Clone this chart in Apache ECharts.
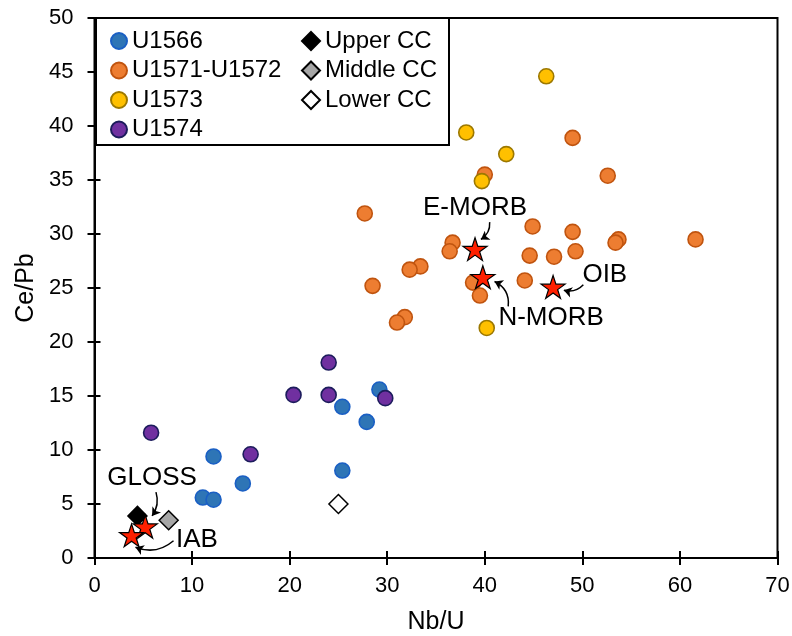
<!DOCTYPE html>
<html>
<head>
<meta charset="utf-8">
<script src="https://cdn.jsdelivr.net/npm/echarts@6/dist/echarts.min.js"></script>
<style>html,body{margin:0;padding:0;background:#fff}#c{width:792px;height:636px}</style>
</head>
<body>
<div id="c"></div>
<script>
// ---- data: [Nb/U, Ce/Pb] ----
const u1566 = [[12.2,9.4],[11.1,5.6],[12.2,5.4],[15.2,6.9],[25.4,14.0],[25.4,8.1],[27.9,12.6],[29.2,15.6]];
const u1571_72 = [[49.0,38.9],[40.0,35.5],[52.6,35.4],[27.7,31.9],[44.9,30.7],[49.0,30.2],[61.6,29.5],[53.7,29.5],[53.4,29.2],[36.7,29.2],[36.4,28.4],[44.6,28.0],[47.1,27.9],[49.3,28.4],[33.4,27.0],[32.3,26.7],[44.1,25.7],[38.8,25.5],[28.5,25.2],[39.5,24.3],[31.8,22.3],[31.0,21.8]];
const u1573 = [[46.3,44.6],[38.1,39.4],[42.2,37.4],[39.7,34.9],[40.2,21.3]];
const u1574 = [[5.8,11.6],[16.0,9.6],[20.4,15.1],[24.0,18.1],[24.0,15.1],[29.8,14.8]];
const upperCC = [[4.4,3.9]];
const middleCC = [[7.6,3.5]];
const lowerCC = [[25.0,5.0]];
const refNames = ['E-MORB','N-MORB','OIB','GLOSS','IAB'];
const refValues = [[39.0,28.6],[39.8,26.0],[47.0,25.1],[5.2,2.9],[3.8,2.1]];
// annotation text anchors and arrows (data space)
const labelPos = [[39.0,32.4],[46.8,22.2],[52.3,26.2],[5.9,7.4],[10.5,1.7]];
const arrows = [
  [[40.5,31.1],[39.6,29.5],0.3],
  [[42.4,23.3],[41.0,25.6],-0.35],
  [[50.1,25.3],[48.1,24.8],0.3],
  [[6.3,6.1],[5.9,3.9],0.25],
  [[8.1,1.6],[4.2,1.0],0.3]
];
const xTicks = {min:0,max:70,interval:10};
const yTicks = {min:0,max:50,interval:5};

const FONT = 'Liberation Sans, Arial, sans-serif';
const star = 'path://M50 0 L61.2 34.5 L97.6 34.5 L68.2 55.9 L79.4 90.5 L50 69.1 L20.6 90.5 L31.8 55.9 L2.4 34.5 L38.8 34.5 Z';

function circ(name, data, fill, border) {
  return {name, type:'scatter', data, symbol:'circle', symbolSize:15,
    itemStyle:{color:fill, borderColor:border, borderWidth:1.6, opacity:1}, z:3};
}
function dia(name, data, fill) {
  return {name, type:'scatter', data, symbol:'diamond', symbolSize:[19,19],
    itemStyle:{color:fill, borderColor:'#000', borderWidth:1.5, opacity:1}, z:4};
}

const chart = echarts.init(document.getElementById('c'), null, {renderer:'canvas'});
const axisCommon = {
  axisLine:{show:true, onZero:false, lineStyle:{color:'#000', width:2}},
  splitLine:{show:false},
};
chart.setOption({
  animation:false,
  backgroundColor:'#fff',
  textStyle:{fontFamily:FONT},
  grid:{left:94.5, right:14.5, top:18, bottom:78, show:true, borderColor:'#000', borderWidth:2,
        containLabel:false, outerBoundsMode:'none'},
  xAxis:[
    Object.assign({type:'value', position:'bottom', min:xTicks.min, max:xTicks.max, interval:xTicks.interval,
      name:'Nb/U', nameLocation:'middle', nameGap:52, nameTextStyle:{fontSize:25, color:'#000', fontFamily:FONT},
      axisTick:{show:true, length:7, lineStyle:{color:'#000', width:2}},
      axisLabel:{fontSize:22, color:'#000', margin:17, fontFamily:FONT}}, axisCommon),
    Object.assign({type:'value', position:'bottom', min:xTicks.min, max:xTicks.max, interval:xTicks.interval,
      axisTick:{show:true, inside:true, length:7, lineStyle:{color:'#000', width:2}},
      axisLabel:{show:false}}, axisCommon)
  ],
  yAxis:[
    Object.assign({type:'value', position:'left', min:yTicks.min, max:yTicks.max, interval:yTicks.interval,
      name:'Ce/Pb', nameLocation:'middle', nameGap:56, nameTextStyle:{fontSize:25, color:'#000', fontFamily:FONT},
      axisTick:{show:true, length:7, lineStyle:{color:'#000', width:2}},
      axisLabel:{fontSize:22, color:'#000', margin:21, fontFamily:FONT}}, axisCommon),
    Object.assign({type:'value', position:'left', min:yTicks.min, max:yTicks.max, interval:yTicks.interval,
      axisTick:{show:true, inside:true, length:6, lineStyle:{color:'#000', width:2}},
      axisLabel:{show:false}}, axisCommon)
  ],
  graphic:[{type:'rect', shape:{x:96, y:18, width:353, height:127}, style:{fill:'#fff', stroke:'#000', lineWidth:2}, z:10}],
  legend:[
    {left:110, top:29, orient:'vertical', itemWidth:16, itemHeight:16, itemGap:5.5, padding:0, z:20,
     textStyle:{fontSize:24, color:'#000', fontFamily:FONT},
     data:['U1566','U1571-U1572','U1573','U1574']},
    {left:301, top:29, orient:'vertical', itemWidth:18, itemHeight:18, itemGap:5.5, padding:0, z:20,
     textStyle:{fontSize:24, color:'#000', fontFamily:FONT},
     data:['Upper CC','Middle CC','Lower CC']}
  ],
  series:[
    circ('U1566', u1566, '#2E75B6', '#1A5FC4'),
    circ('U1571-U1572', u1571_72, '#ED7D31', '#C0540F'),
    circ('U1573', u1573, '#FFC000', '#9C7800'),
    circ('U1574', u1574, '#7030A0', '#1C1C5C'),
    dia('Upper CC', upperCC, '#000'),
    dia('Middle CC', middleCC, '#A6A6A6'),
    dia('Lower CC', lowerCC, '#fff'),
    {name:'refs', type:'scatter', symbol:star, symbolKeepAspect:true, symbolSize:24,
     data: refValues.map((v,i)=>({name:refNames[i], value:v})),
     itemStyle:{color:'#FF2000', borderColor:'#000', borderWidth:1.2, opacity:1}, z:6},
    {name:'labels', type:'scatter', symbolSize:0, silent:true,
     itemStyle:{opacity:1, color:'#000'},
     data: labelPos.map((v,i)=>({name:refNames[i], value:v})),
     label:{show:true, position:'inside', formatter:p=>p.name, fontSize:26, color:'#000', opacity:1, fontFamily:FONT}, z:7},
    {name:'arrows', type:'lines', coordinateSystem:'cartesian2d', silent:true, z:5,
     symbol:['none','arrow'], symbolSize:8,
     lineStyle:{color:'#000', width:1.5, opacity:1},
     data: arrows.map(a=>({coords:[a[0],a[1]], lineStyle:{curveness:a[2]}}))}
  ]
});
</script>
</body>
</html>
